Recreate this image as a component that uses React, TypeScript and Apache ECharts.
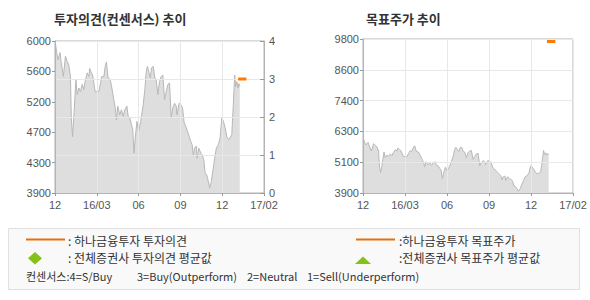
import React, { useEffect, useRef } from "react";
import * as echarts from "echarts";

// x-axis tick labels (one per axis unit)
const xLabels = ["12", "16/03", "06", "09", "12", "17/02"];

// price series: x in axis units, value in KRW
const priceX = [
  0.01, 0.04, 0.07, 0.12, 0.15, 0.2, 0.25, 0.29, 0.33, 0.37, 0.39, 0.42, 0.45, 0.5, 0.53, 0.57, 0.61, 0.65, 0.69, 0.72,
  0.77, 0.81, 0.83, 0.87, 0.9, 0.96, 1.05, 1.08, 1.12, 1.17, 1.2, 1.23, 1.27, 1.32, 1.36, 1.4, 1.44, 1.47, 1.5, 1.55,
  1.59, 1.63, 1.67, 1.72, 1.75, 1.79, 1.83, 1.86, 1.89, 1.92, 1.96, 2.0, 2.05, 2.11, 2.15, 2.18, 2.21, 2.24, 2.28, 2.31,
  2.35, 2.39, 2.42, 2.46, 2.5, 2.54, 2.58, 2.62, 2.66, 2.7, 2.74, 2.78, 2.82, 2.86, 2.9, 2.92, 2.97, 3.01, 3.05, 3.09,
  3.13, 3.17, 3.21, 3.25, 3.28, 3.31, 3.34, 3.38, 3.4, 3.44, 3.49, 3.52, 3.56, 3.59, 3.63, 3.66, 3.7, 3.74, 3.78, 3.82,
  3.86, 3.91, 3.95, 3.99, 4.03, 4.07, 4.11, 4.15, 4.19, 4.23, 4.25, 4.27, 4.28, 4.3, 4.32, 4.35, 4.38, 4.4, 4.42,
];
const priceValues = [
  5970, 5840, 5740, 5840, 5700, 5510, 5790, 5720, 5670, 5510, 4940, 4680, 4940, 5470, 5260, 5350, 5300, 5400, 5330, 5440,
  5560, 5510, 5620, 5560, 5530, 5300, 5300, 5400, 5510, 5510, 5650, 5710, 5490, 5470, 5350, 5210, 5080, 4910, 5100, 4980,
  5050, 4960, 5050, 5100, 4960, 4940, 4840, 4780, 4450, 4660, 4890, 4750, 4890, 5120, 5330, 5560, 5650, 5580, 5490, 5630,
  5650, 5490, 5470, 5260, 5440, 5510, 5530, 5190, 5300, 5400, 5420, 4940, 5080, 5140, 5100, 4980, 5140, 5120, 5080, 4870,
  4820, 4750, 4680, 4610, 4570, 4410, 4520, 4550, 4380, 4520, 4450, 4430, 4360, 4180, 4150, 4080, 3970, 4060, 4220, 4380,
  4520, 4570, 4660, 4940, 4890, 4800, 4680, 4640, 4660, 4710, 4940, 5170, 5300, 5530, 5370, 5440, 5350, 5410, 5380,
];

// 하나금융투자 opinion / target price
const hanaX = [4.38, 4.58];
const hanaRating = 3;
const hanaTarget = 9700;

// axis ranges
const leftBase = 3900;
const leftSpan = 2100;
const leftStep = 420;
const rightBase = 3900;
const rightSpan = 5900;
const rightStep = 1180;
const ratingMax = 4;

const FONT = "'Noto Sans CJK KR', 'Noto Sans', sans-serif";
const LABEL = "'Liberation Sans', Arial, sans-serif";

export default function App() {
  const ref = useRef<HTMLDivElement>(null);
  useEffect(() => {
    if (!ref.current) return;
    const chart = echarts.init(ref.current, undefined, { renderer: "svg" });

    const xAxisBase = (gridIndex: number) => ({
      gridIndex,
      type: "value",
      min: 0,
      max: xLabels.length - 1,
      interval: 1,
      z: 3,
      axisLine: { show: true, lineStyle: { color: "#b4b4b4", width: 1 } },
      axisTick: { show: true, length: 3, lineStyle: { color: "#999" } },
      axisLabel: {
        formatter: (v: number) => xLabels[Math.round(v)] ?? "",
        color: "#555",
        fontSize: 11,
        fontFamily: LABEL,
        margin: 6,
        showMinLabel: true,
        showMaxLabel: true,
      },
      splitLine: { show: true, lineStyle: { color: "#e8e8e8" } },
    });

    const priceData = (base: number) => priceX.map((x, i) => [x, priceValues[i] - base]);

    const option: any = {
      animation: false,
      grid: [
        { left: 55, top: 41, width: 209, height: 152, show: true, borderColor: "#b4b4b4", borderWidth: 1, backgroundColor: "transparent" },
        { left: 363, top: 39, width: 210, height: 154, show: true, borderColor: "#b4b4b4", borderWidth: 1, backgroundColor: "transparent" },
      ],
      xAxis: [xAxisBase(0), xAxisBase(1)],
      yAxis: [
        {
          gridIndex: 0,
          type: "value",
          position: "left",
          min: 0,
          max: leftSpan,
          interval: leftStep,
          z: 3,
          axisLine: { show: true, lineStyle: { color: "#b4b4b4" } },
          axisTick: { show: true, length: 3, lineStyle: { color: "#999" } },
          axisLabel: {
            formatter: (v: number) => String(Math.round((v + leftBase) / 100) * 100),
            color: "#555",
            fontSize: 11,
            fontFamily: LABEL,
            margin: 4,
          },
          splitLine: { show: false },
        },
        {
          gridIndex: 0,
          type: "value",
          position: "right",
          min: 0,
          max: ratingMax,
          interval: 1,
          z: 3,
          axisLine: { show: true, lineStyle: { color: "#b4b4b4" } },
          axisTick: { show: true, inside: true, length: 4, lineStyle: { color: "#999" } },
          axisLabel: { color: "#555", fontSize: 11, fontFamily: LABEL, margin: 5 },
          splitLine: { show: true, lineStyle: { color: "#e8e8e8" } },
        },
        {
          gridIndex: 1,
          type: "value",
          position: "left",
          min: 0,
          max: rightSpan,
          interval: rightStep,
          z: 3,
          axisLine: { show: true, lineStyle: { color: "#b4b4b4" } },
          axisTick: { show: true, length: 3, lineStyle: { color: "#999" } },
          axisLabel: {
            formatter: (v: number) => String(Math.round((v + rightBase) / 100) * 100),
            color: "#555",
            fontSize: 11,
            fontFamily: LABEL,
            margin: 4,
          },
          splitLine: { show: true, lineStyle: { color: "#e8e8e8" } },
        },
      ],
      series: [
        {
          type: "line",
          xAxisIndex: 0,
          yAxisIndex: 0,
          z: 1,
          data: priceData(leftBase),
          symbol: "none",
          lineStyle: { color: "#b8b8b8", width: 1 },
          areaStyle: { color: "#dedede", opacity: 1 },
        },
        {
          type: "line",
          xAxisIndex: 0,
          yAxisIndex: 1,
          z: 5,
          data: hanaX.map((x) => [x, hanaRating]),
          symbol: "none",
          lineStyle: { color: "#ff7a00", width: 3 },
        },
        {
          type: "line",
          xAxisIndex: 1,
          yAxisIndex: 2,
          z: 1,
          data: priceData(rightBase),
          symbol: "none",
          lineStyle: { color: "#b8b8b8", width: 1 },
          areaStyle: { color: "#dedede", opacity: 1 },
        },
        {
          type: "line",
          xAxisIndex: 1,
          yAxisIndex: 2,
          z: 5,
          data: hanaX.map((x) => [x, hanaTarget - rightBase]),
          symbol: "none",
          lineStyle: { color: "#ff7a00", width: 3 },
        },
      ],
      graphic: [
        {
          type: "text",
          left: 54,
          top: 12,
          style: { text: "투자의견(컨센서스) 추이", fill: "#333", fontSize: 13, fontWeight: "bold", fontFamily: FONT },
        },
        {
          type: "text",
          left: 366,
          top: 12,
          style: { text: "목표주가 추이", fill: "#333", fontSize: 13, fontWeight: "bold", fontFamily: FONT },
        },
        {
          type: "rect",
          shape: { x: 8.5, y: 228.5, width: 571, height: 61 },
          style: { fill: "#f9f9f9", stroke: "#e0e0e0", lineWidth: 1 },
        },
        {
          type: "line",
          shape: { x1: 26, y1: 239.5, x2: 65, y2: 239.5 },
          style: { stroke: "#e8700c", lineWidth: 2 },
        },
        {
          type: "line",
          shape: { x1: 356, y1: 239.5, x2: 395, y2: 239.5 },
          style: { stroke: "#e8700c", lineWidth: 2 },
        },
        {
          type: "polygon",
          shape: { points: [[35, 252], [42, 258.3], [35, 264.6], [28, 258.3]] },
          style: { fill: "#84c21a" },
        },
        {
          type: "polygon",
          shape: { points: [[363, 256.5], [371, 264], [355, 264]] },
          style: { fill: "#84c21a" },
        },
        ...[
          { t: ": 하나금융투자 투자의견", x: 68, y: 240, s: 12 },
          { t: ": 전체증권사 투자의견 평균값", x: 68, y: 257.5, s: 12 },
          { t: ":하나금융투자 목표주가", x: 399, y: 240, s: 12 },
          { t: ":전체증권사 목표주가 평균값", x: 399, y: 257.5, s: 12 },
          { t: "컨센서스:4=S/Buy", x: 26, y: 275.5, s: 11 },
          { t: "3=Buy(Outperform)", x: 137, y: 275.5, s: 11 },
          { t: "2=Neutral", x: 247, y: 275.5, s: 11 },
          { t: "1=Sell(Underperform)", x: 307, y: 275.5, s: 11 },
        ].map((d) => ({
          type: "text",
          x: d.x,
          y: d.y,
          style: { text: d.t, fill: "#333", fontSize: d.s, fontFamily: FONT, verticalAlign: "middle", align: "left" },
        })),
      ],
    };
    chart.setOption(option);
    return () => chart.dispose();
  }, []);

  return (
    <div
      ref={ref}
      style={{ position: "absolute", left: 0, top: 0, width: 590, height: 300, background: "#fff" }}
    />
  );
}
